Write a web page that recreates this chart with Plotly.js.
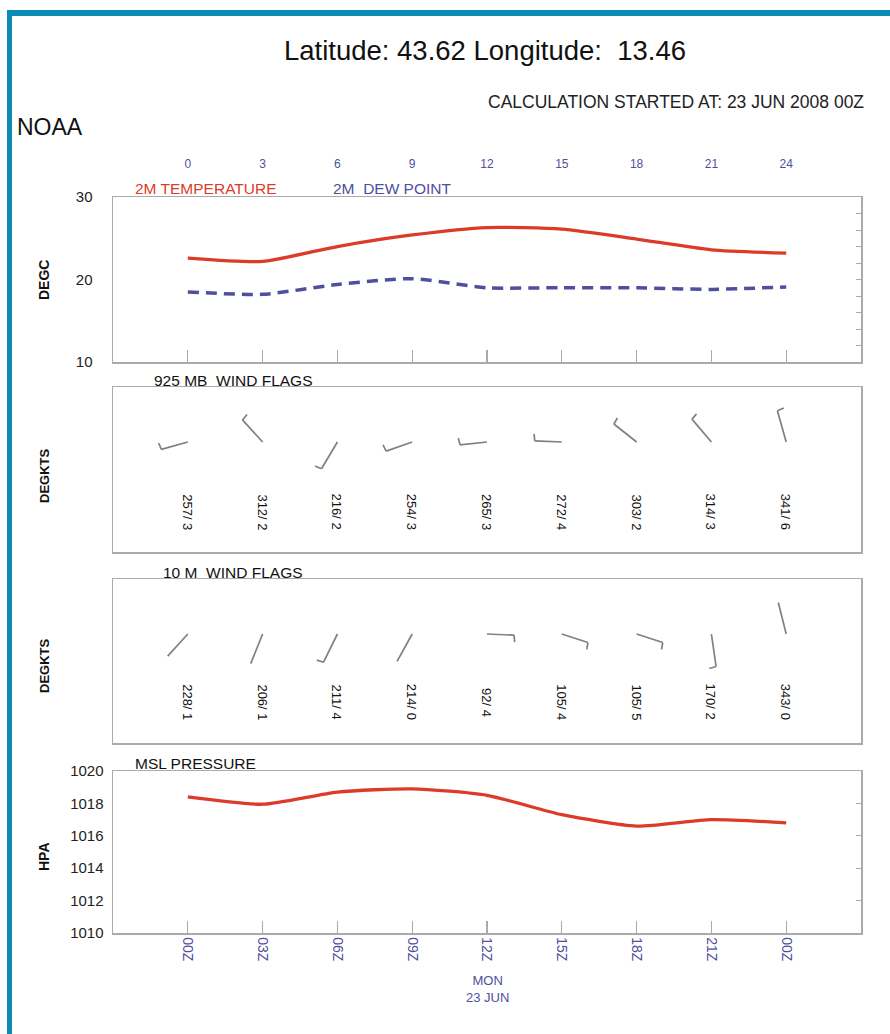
<!DOCTYPE html>
<html><head><meta charset="utf-8">
<script src="https://cdn.plot.ly/plotly-3.0.1.min.js"></script>
<style>html,body{margin:0;padding:0;background:#fff}#chart{width:890px;height:1034px}</style>
</head><body><div id="chart"></div>
<script>
// ---------- data ----------
const hours = [0, 3, 6, 9, 12, 15, 18, 21, 24];
const hourLabels = ['0', '3', '6', '9', '12', '15', '18', '21', '24'];
const timeLabels = ['00Z', '03Z', '06Z', '09Z', '12Z', '15Z', '18Z', '21Z', '00Z'];
const temperature2m = [22.6, 22.2, 24.0, 25.4, 26.3, 26.1, 24.9, 23.6, 23.2];
const dewPoint2m = [18.5, 18.2, 19.4, 20.1, 19.0, 19.0, 19.0, 18.8, 19.1];
const mslPressure = [1018.4, 1017.95, 1018.7, 1018.9, 1018.5, 1017.3, 1016.6, 1017.0, 1016.8];
const wind925Dir = [257, 312, 216, 254, 265, 272, 303, 314, 341];
const wind925Spd = [3, 2, 2, 3, 3, 4, 2, 3, 6];
const wind10Dir = [228, 206, 211, 214, 92, 105, 105, 170, 343];
const wind10Spd = [1, 1, 4, 0, 4, 4, 5, 2, 0];
const tempTicks = [10, 20, 30];
const presTicks = [1010, 1012, 1014, 1016, 1018, 1020];

// ---------- geometry ----------
const W = 890, H = 1034, L = 113, R = 29, T = 197, B = 101;
const plotW = W - L - R, plotH = H - T - B;
const xRange = [-3, 27];
const pxPerHour = plotW / (xRange[1] - xRange[0]);
const yp = p => (H - B - p) / plotH;
const xp = p => (p - L) / plotW;
const panels = {
  temp: [362, 197], w925: [552, 387], w10: [743, 579], pres: [933, 771]
};
const dom = k => [yp(panels[k][0]), yp(panels[k][1])];
const hgt = k => panels[k][0] - panels[k][1];

const FONT = 'Liberation Sans, Arial, Helvetica, sans-serif';
const BLUE = '#4f4f9f', RED = '#dd3b2a', FRAME = '#aaaaaa';

// ---------- wind barbs ----------
function barbs(dirs, spds, stationY) {
  const xs = [], ys = [];
  const staff = 33, squeeze = 0.82, barbLen = 7, rot = 82 * Math.PI / 180;
  dirs.forEach((d, i) => {
    const a = d * Math.PI / 180;
    const dx = staff * squeeze * Math.sin(a), dy = staff * Math.cos(a);
    xs.push(hours[i], hours[i] + dx / pxPerHour, null);
    ys.push(stationY, stationY + dy, null);
    if (spds[i] >= 2) {
      const n = Math.hypot(dx, dy), ux = dx / n, uy = dy / n;
      const bx = (ux * Math.cos(rot) + uy * Math.sin(rot)) * barbLen;
      const by = (-ux * Math.sin(rot) + uy * Math.cos(rot)) * barbLen;
      xs.push(hours[i] + dx / pxPerHour, hours[i] + (dx + bx) / pxPerHour, null);
      ys.push(stationY + dy, stationY + dy + by, null);
    }
  });
  return {xs, ys};
}
const b925 = barbs(wind925Dir, wind925Spd, 110);
const b10 = barbs(wind10Dir, wind10Spd, 109);

const traces = [
  {x: hours, y: temperature2m, xaxis: 'x', yaxis: 'y', mode: 'lines', name: '2M TEMPERATURE',
   line: {color: RED, width: 3.3, shape: 'spline', smoothing: 0.6}},
  {x: hours, y: dewPoint2m, xaxis: 'x', yaxis: 'y', mode: 'lines', name: '2M DEW POINT',
   line: {color: BLUE, width: 3.5, dash: '11px,7px', shape: 'spline', smoothing: 0.6}},
  {x: [null], y: [null], xaxis: 'x5', yaxis: 'y', mode: 'lines', showlegend: false, hoverinfo: 'skip'},
  {x: [null], y: [null], xaxis: 'x', yaxis: 'y5', mode: 'lines', showlegend: false, hoverinfo: 'skip'},
  {x: b925.xs, y: b925.ys, xaxis: 'x2', yaxis: 'y2', mode: 'lines', name: '925 MB WIND',
   line: {color: '#808080', width: 1.7}},
  {x: b10.xs, y: b10.ys, xaxis: 'x3', yaxis: 'y3', mode: 'lines', name: '10 M WIND',
   line: {color: '#808080', width: 1.7}},
  {x: hours, y: mslPressure, xaxis: 'x4', yaxis: 'y4', mode: 'lines', name: 'MSL PRESSURE',
   line: {color: RED, width: 3.3, shape: 'spline', smoothing: 0.6}},
  {x: [null], y: [null], xaxis: 'x4', yaxis: 'y6', mode: 'lines', showlegend: false, hoverinfo: 'skip'}
];

const baseX = {range: xRange, showgrid: false, zeroline: false, showline: true, mirror: true,
  linecolor: FRAME, linewidth: 1.5, fixedrange: true};
const baseY = {showgrid: false, zeroline: false, showline: true, mirror: true,
  linecolor: FRAME, linewidth: 1.5, fixedrange: true};
const tickFont = {family: FONT, size: 15, color: '#222'};

const ann = [];
function txt(text, x, y, opts) {
  ann.push(Object.assign({text, x, y, xref: 'paper', yref: 'paper', showarrow: false,
    xanchor: 'left', yanchor: 'middle', font: {family: FONT, size: 14, color: '#111'}}, opts || {}));
}
txt('CALCULATION STARTED AT: 23 JUN 2008 00Z', xp(866), yp(102), {xanchor: 'right', font: {family: FONT, size: 17.5, color: '#222'}});
txt('NOAA', xp(15), yp(127), {font: {family: FONT, size: 23, color: '#111'}});
txt('2M TEMPERATURE', xp(133), yp(188), {font: {family: FONT, size: 15.5, color: RED}});
txt('2M  DEW POINT', xp(331), yp(188), {font: {family: FONT, size: 15.5, color: BLUE}});
txt('925 MB  WIND FLAGS', xp(152), yp(380), {font: {family: FONT, size: 15.5, color: '#111'}});
txt('10 M  WIND FLAGS', xp(161), yp(572), {font: {family: FONT, size: 15.5, color: '#111'}});
txt('MSL PRESSURE', xp(133), yp(763), {font: {family: FONT, size: 15.5, color: '#111'}});
txt('<b>DEGC</b>', xp(44), yp(280), {xanchor: 'center', textangle: -90, font: {family: FONT, size: 14, color: '#111'}});
txt('<b>DEGKTS</b>', xp(44), yp(476), {xanchor: 'center', textangle: -90, font: {family: FONT, size: 13, color: '#111'}});
txt('<b>DEGKTS</b>', xp(44), yp(666), {xanchor: 'center', textangle: -90, font: {family: FONT, size: 13, color: '#111'}});
txt('<b>HPA</b>', xp(44), yp(857), {xanchor: 'center', textangle: -90, font: {family: FONT, size: 14, color: '#111'}});
ann.push({text: 'MON<br>23 JUN', x: 12, y: yp(989), xref: 'x4', yref: 'paper', showarrow: false,
  xanchor: 'center', yanchor: 'middle', font: {family: FONT, size: 13, color: BLUE}});
hours.forEach((h, i) => {
  ann.push({text: wind925Dir[i] + '/ ' + wind925Spd[i], x: h, y: 40, xref: 'x2', yref: 'y2',
    showarrow: false, textangle: 90, font: {family: FONT, size: 13, color: '#111'}});
  ann.push({text: wind10Dir[i] + '/ ' + wind10Spd[i], x: h, y: 41, xref: 'x3', yref: 'y3',
    showarrow: false, textangle: 90, font: {family: FONT, size: 13, color: '#111'}});
});

const layout = {
  width: W, height: H, margin: {l: L, r: R, t: T, b: B, pad: 0},
  paper_bgcolor: '#ffffff', plot_bgcolor: '#ffffff', showlegend: false,
  title: {text: 'Latitude: 43.62 Longitude:  13.46', x: 485 / W, xanchor: 'center',
    y: 1 - 50 / H, yanchor: 'middle', font: {family: FONT, size: 27.5, color: '#111'}},
  xaxis: Object.assign({}, baseX, {domain: [0, 1], anchor: 'y', tickvals: hours, showticklabels: false,
    ticks: 'inside', ticklen: 12, tickcolor: FRAME, tickwidth: 1.2}),
  xaxis5: {overlaying: 'x', anchor: 'y', side: 'top', range: xRange, matches: 'x', tickvals: hours,
    ticktext: hourLabels, ticks: '', showline: false, showgrid: false, zeroline: false,
    ticklabelstandoff: 26, tickfont: {family: FONT, size: 12, color: BLUE}},
  yaxis: Object.assign({}, baseY, {domain: dom('temp'), anchor: 'x', range: [10, 30], tickvals: tempTicks,
    ticks: '', ticklabelstandoff: 16, tickfont: tickFont}),
  yaxis5: {overlaying: 'y', side: 'right', anchor: 'x', range: [10, 30], dtick: 2, tick0: 10,
    ticks: 'inside', ticklen: 5, tickcolor: FRAME, showticklabels: false, showgrid: false,
    zeroline: false, showline: false},
  xaxis2: Object.assign({}, baseX, {domain: [0, 1], anchor: 'y2', showticklabels: false, ticks: ''}),
  yaxis2: Object.assign({}, baseY, {domain: dom('w925'), anchor: 'x2', range: [0, hgt('w925')],
    showticklabels: false, ticks: ''}),
  xaxis3: Object.assign({}, baseX, {domain: [0, 1], anchor: 'y3', showticklabels: false, ticks: ''}),
  yaxis3: Object.assign({}, baseY, {domain: dom('w10'), anchor: 'x3', range: [0, hgt('w10')],
    showticklabels: false, ticks: ''}),
  xaxis4: Object.assign({}, baseX, {domain: [0, 1], anchor: 'y4', tickvals: hours, ticktext: timeLabels,
    tickangle: 90, ticks: 'inside', ticklen: 12, tickcolor: FRAME, tickwidth: 1.2,
    tickfont: {family: FONT, size: 14, color: BLUE}}),
  yaxis4: Object.assign({}, baseY, {domain: dom('pres'), anchor: 'x4', range: [1010, 1020],
    tickvals: presTicks, ticks: '', ticklabelstandoff: 5, tickfont: tickFont}),
  yaxis6: {overlaying: 'y4', side: 'right', anchor: 'x4', range: [1010, 1020], dtick: 2, tick0: 1010,
    ticks: 'inside', ticklen: 5, tickcolor: FRAME, showticklabels: false, showgrid: false,
    zeroline: false, showline: false},
  annotations: ann,
  shapes: [
    {type: 'line', xref: 'paper', yref: 'paper', x0: xp(7), x1: xp(890), y0: yp(13), y1: yp(13),
     line: {color: '#0b8cb6', width: 6}},
    {type: 'line', xref: 'paper', yref: 'paper', x0: xp(9.5), x1: xp(9.5), y0: yp(10), y1: yp(1034),
     line: {color: '#0b8cb6', width: 5}}
  ]
};

Plotly.newPlot('chart', traces, layout, {staticPlot: true, displayModeBar: false});
</script>
</body></html>
